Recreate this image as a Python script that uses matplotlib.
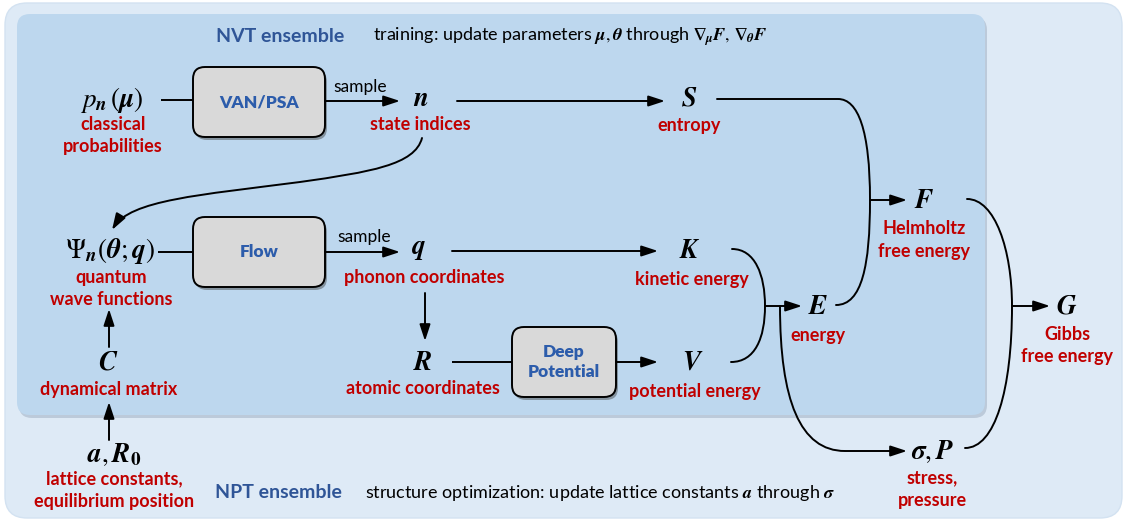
import matplotlib.pyplot as plt
from matplotlib.patches import FancyBboxPatch, FancyArrowPatch
from matplotlib.path import Path

plt.rcParams['mathtext.fontset'] = 'stix'
plt.rcParams['font.family'] = ['Lato', 'DejaVu Sans']

RED = '#c00000'
HEAD_BLUE = '#2f5597'
BOX_BLUE = '#2c5cab'

# quantities (math symbols) and their red captions
symbols = [r'$p_{\mathbfit{n}}\,(\mathbfit{\mu})$', r'$\mathbfit{n}$', r'$\mathbfit{S}$',
           r'$\mathbfit{F}$', r'$\Psi_{\mathbfit{n}}(\mathbfit{\theta};\mathbfit{q})$',
           r'$\mathbfit{q}$', r'$\mathbfit{K}$', r'$\mathbfit{E}$', r'$\mathbfit{G}$',
           r'$\mathbfit{C}$', r'$\mathbfit{R}$', r'$\mathbfit{V}$',
           r'$\mathbfit{a},\mathbfit{R}_{\mathbf{0}}$', r'$\mathbfit{\sigma},\mathbfit{P}$']
captions = ['classical\nprobabilities', 'state indices', 'entropy',
            'Helmholtz\nfree energy', 'quantum\nwave functions',
            'phonon coordinates', 'kinetic energy', 'energy', 'Gibbs\nfree energy',
            'dynamical matrix', 'atomic coordinates', 'potential energy',
            'lattice constants,\nequilibrium position', 'stress,\npressure']
blocks = ['VAN/PSA', 'Flow', 'Deep\nPotential']
ensembles = ['NVT ensemble', 'NPT ensemble']
notes = [r'training: update parameters $\mathbfit{\mu},\mathbfit{\theta}$ through '
         r'$\mathbf{\nabla}_{\mathbfit{\mu}}\mathbfit{F},\,\mathbf{\nabla}_{\mathbfit{\theta}}\mathbfit{F}$',
         r'structure optimization: update lattice constants $\mathbfit{a}$ through $\mathbfit{\sigma}$']

# layout in pixels (x, y measured from the top)
sym_pos = [(112, 100), (421, 98), (689, 98), (924, 200), (110, 251), (418, 250),
           (690, 251), (818, 306), (1067, 306), (108, 362), (423, 362), (693, 362),
           (114, 455), (932, 452)]
cap_pos = [(113, 124), (420, 124), (689, 125), (924, 229), (111, 277), (424, 278),
           (692, 279), (818, 336), (1067, 334), (109, 389), (423, 389), (695, 392),
           (114, 479), (932, 478)]
block_box = [(193, 67, 132, 70), (193, 217, 132, 70), (512, 327, 104, 70)]

fig = plt.figure(figsize=(11.24, 5.21), dpi=100)
ax = fig.add_axes([0, 0, 1, 1])
ax.set_xlim(0, 1124)
ax.set_ylim(521, 0)
ax.axis('off')


def rbox(x, y, w, h, r, fc, ec='none', lw=0, z=1, shadow=None):
    if shadow:
        ax.add_patch(FancyBboxPatch((x + shadow[0], y + shadow[1]), w, h,
                                    boxstyle=f'round,pad=0,rounding_size={r}',
                                    fc=shadow[2], ec='none', alpha=shadow[3], zorder=z - 0.5))
    ax.add_patch(FancyBboxPatch((x, y), w, h, boxstyle=f'round,pad=0,rounding_size={r}',
                                fc=fc, ec=ec, lw=lw, zorder=z))


# outer (NPT) and inner (NVT) panels
rbox(5, 3, 1117, 515, 22, '#deeaf6', ec='#d3e2f1', lw=1.0, z=1)
rbox(17, 14, 968, 401, 13, '#bdd7ee', z=2, shadow=(2, 3, '#8a9bb0', 0.4))

for (x, y, w, h), lab in zip(block_box, blocks):
    rbox(x, y, w, h, 12, '#d9d9d9', ec='black', lw=1.4, z=3, shadow=(2, 3, '#404040', 0.45))
    ax.text(x + w / 2, y + h / 2, lab, ha='center', va='center', color=BOX_BLUE,
            fontsize=12.5, fontweight='heavy', linespacing=1.35, zorder=4)

for s, (x, y) in zip(symbols, sym_pos):
    ax.text(x, y, s, ha='center', va='center', fontsize=19.5, zorder=4)

for c, (x, y) in zip(captions, cap_pos):
    for i, txt in enumerate(c.split('\n')):
        ax.text(x, y + 22.5 * i, txt, ha='center', va='center', color=RED,
                fontsize=13, fontweight='bold', zorder=4)

ax.text(280, 36, ensembles[0], ha='center', va='center', color=HEAD_BLUE,
        fontsize=14, fontweight='bold', zorder=4)
ax.text(278, 493, ensembles[1], ha='center', va='center', color=HEAD_BLUE,
        fontsize=14, fontweight='bold', zorder=4)
ax.text(373, 37, notes[0], ha='left', va='center', fontsize=13, zorder=4)
ax.text(365, 493, notes[1], ha='left', va='center', fontsize=13, zorder=4)

ax.text(360, 87, 'sample', ha='center', va='center', fontsize=12.5, zorder=4)
ax.text(364, 237, 'sample', ha='center', va='center', fontsize=12.5, zorder=4)

LW = 1.4
HEAD = '-|>,head_length=0.55,head_width=0.18'


def line(p, q):
    ax.plot([p[0], q[0]], [p[1], q[1]], color='black', lw=LW, zorder=3,
            solid_capstyle='butt')


def arrow(p, q):
    ax.add_patch(FancyArrowPatch(p, q, arrowstyle=HEAD, mutation_scale=18, color='black',
                                 lw=LW, shrinkA=0, shrinkB=0, zorder=3))


def curve(verts, codes, head=False):
    ax.add_patch(FancyArrowPatch(path=Path(verts, codes), arrowstyle=HEAD if head else '-',
                                 mutation_scale=18, color='black', lw=LW, zorder=3))


M, L, C4 = Path.MOVETO, Path.LINETO, Path.CURVE4

# top row
line((161, 100), (193, 100))
arrow((325, 101), (400, 101))
arrow((457, 101), (665, 101))
# second row
line((158, 252), (193, 252))
arrow((325, 252), (400, 252))
arrow((452, 251), (658, 251))
# vertical arrows
arrow((425, 293), (425, 341))
arrow((109, 347), (109, 309))
arrow((109, 440), (109, 402))
# third row
line((452, 362), (512, 362))
arrow((616, 362), (658, 362))

# n -> Psi
curve([(422, 138), (415, 165), (370, 172), (300, 182), (200, 195), (130, 200), (112, 230)],
      [M, C4, C4, C4, C4, C4, C4], head=True)

# S, E -> F
curve([(717, 99), (838, 99), (858, 99), (870, 130), (870, 200),
       (870, 265), (862, 305), (836, 305)],
      [M, L, C4, C4, C4, C4, C4, C4])
arrow((870, 200), (907, 200))

# K, V -> E
curve([(732, 249), (755, 249), (765, 275), (765, 306), (765, 338), (755, 362), (731, 362)],
      [M, C4, C4, C4, C4, C4, C4])
arrow((765, 306), (802, 306))

# E -> sigma, P
curve([(780, 306), (780, 400), (800, 451), (845, 451), (907, 451)],
      [M, C4, C4, C4, L], head=True)

# F, sigma/P -> G
curve([(967, 199), (995, 199), (1012, 250), (1012, 306), (1012, 390), (995, 448), (965, 448)],
      [M, C4, C4, C4, C4, C4, C4])
arrow((1012, 306), (1050, 306))

fig.savefig('out.png', dpi=100)
